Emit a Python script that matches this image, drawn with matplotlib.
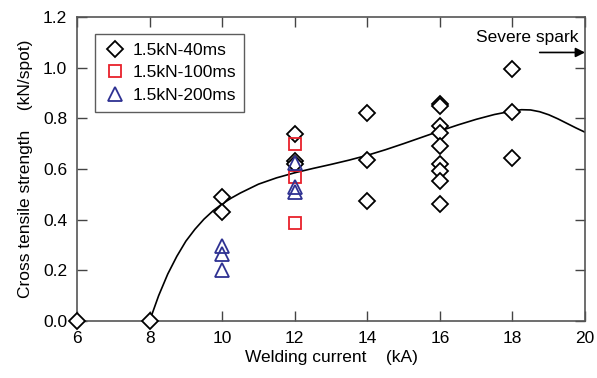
import matplotlib
matplotlib.use('Agg')
import matplotlib.pyplot as plt

plt.rcParams['font.family'] = ['Liberation Sans', 'DejaVu Sans']

# ── data ─────────────────────────────────────────────────────────────────────
x_40ms = [6, 8, 10, 10, 12, 12, 12, 14, 14, 14,
          16, 16, 16, 16, 16, 16, 16, 16, 16, 18, 18, 18]
y_40ms = [0.0, 0.0, 0.49, 0.43, 0.74, 0.63, 0.62, 0.82, 0.635, 0.475,
          0.858, 0.85, 0.77, 0.743, 0.69, 0.62, 0.59, 0.553, 0.46, 0.995, 0.825, 0.644]

x_100ms = [12, 12, 12]
y_100ms = [0.70, 0.57, 0.385]

x_200ms = [10, 10, 10, 12, 12, 12]
y_200ms = [0.295, 0.265, 0.20, 0.625, 0.53, 0.51]

# fitted trend curve
curve_x = [8.0, 8.25, 8.5, 8.75, 9.0, 9.25, 9.5, 9.75, 10.0, 10.25, 10.5,
           11.0, 11.5, 12.0, 12.5, 13.0, 13.5, 14.0, 14.5, 15.0, 15.5, 16.0,
           16.5, 17.0, 17.5, 18.0, 18.25, 18.5, 18.75, 19.0, 19.25, 19.5,
           19.75, 20.0]
curve_y = [0.0, 0.10, 0.185, 0.255, 0.315, 0.362, 0.402, 0.435, 0.462, 0.485, 0.505,
           0.54, 0.565, 0.585, 0.602, 0.618, 0.635, 0.654, 0.676, 0.70, 0.725, 0.75,
           0.774, 0.796, 0.815, 0.829, 0.834, 0.833, 0.826, 0.814, 0.798, 0.78,
           0.762, 0.745]

x_ticks = [6, 8, 10, 12, 14, 16, 18, 20]
y_ticks = [0.0, 0.2, 0.4, 0.6, 0.8, 1.0, 1.2]

# ─────────────────────────────────────────────────────────────────────────────
fig = plt.figure(figsize=(5.97, 3.78), dpi=100)
ax = fig.add_axes([0.129, 0.151, 0.851, 0.804])

ax.plot(curve_x, curve_y, color='black', lw=1.2, zorder=2)

ax.plot(x_40ms, y_40ms, ls='none', marker='D', ms=7.8, mfc='white',
        mec='black', mew=1.3, label='1.5kN-40ms', clip_on=False, zorder=3)
ax.plot(x_100ms, y_100ms, ls='none', marker='s', ms=9, mfc='none',
        mec='#e8212b', mew=1.3, label='1.5kN-100ms', clip_on=False, zorder=4)
ax.plot(x_200ms, y_200ms, ls='none', marker='^', ms=10, mfc='none',
        mec='#2e3192', mew=1.3, label='1.5kN-200ms', clip_on=False, zorder=4)

ax.set_xlim(6, 20)
ax.set_ylim(0, 1.2)
ax.set_xticks(x_ticks)
ax.set_yticks(y_ticks)
ax.set_yticklabels([f'{v:.1f}' for v in y_ticks])
ax.tick_params(direction='in', top=True, right=True, length=7, width=1,
               labelsize=12.5, color='#444444', pad=7)
for s in ax.spines.values():
    s.set_color('#555555')
    s.set_linewidth(1.2)

ax.set_xlabel('Welding current    (kA)', fontsize=12.5, labelpad=3)
ax.set_ylabel('Cross tensile strength    (kN/spot)', fontsize=12.5, labelpad=7)

# Severe spark marker
ax.annotate('', xy=(20, 1.06), xytext=(18.75, 1.06),
            arrowprops=dict(arrowstyle='-|>', color='black', lw=1.2,
                            mutation_scale=14, shrinkA=0, shrinkB=0),
            annotation_clip=False)
ax.text(18.4, 1.12, 'Severe spark', fontsize=12.5, ha='center', va='center')

leg = ax.legend(loc='upper left', bbox_to_anchor=(0.018, 0.972), fontsize=12.5,
                frameon=True, fancybox=False, handletextpad=0.35,
                handlelength=1.3, borderpad=0.5, labelspacing=0.42)
leg.get_frame().set_edgecolor('#333333')
leg.get_frame().set_linewidth(1.0)

fig.savefig('out.png', dpi=100)
